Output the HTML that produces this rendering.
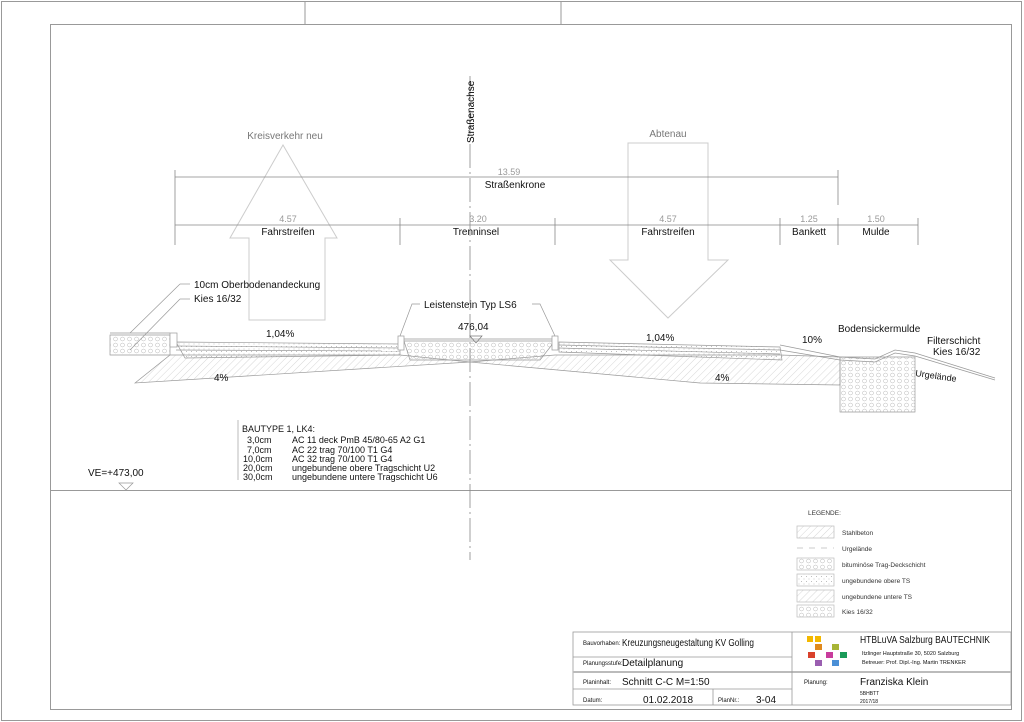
<!DOCTYPE html>
<html><head><meta charset="utf-8"><style>
html,body{margin:0;padding:0;background:#fff}
svg{display:block;font-family:"Liberation Sans",sans-serif}
</style></head><body>
<svg width="1024" height="722" viewBox="0 0 1024 722" xmlns="http://www.w3.org/2000/svg">
<defs>
<pattern id="hatch" width="5" height="5" patternUnits="userSpaceOnUse" patternTransform="rotate(45)"><line x1="0" y1="0" x2="0" y2="5" stroke="#bbb" stroke-width="0.6"/></pattern>
<pattern id="dots" width="5" height="5" patternUnits="userSpaceOnUse"><circle cx="1.5" cy="1.5" r="0.5" fill="#aaa"/><circle cx="4" cy="4" r="0.5" fill="#bbb"/></pattern>
<pattern id="kies" width="7" height="6" patternUnits="userSpaceOnUse"><circle cx="3.5" cy="3" r="2" fill="none" stroke="#bbb" stroke-width="0.5"/></pattern>
</defs>
<g fill="none" stroke="#999" stroke-width="1">
<rect x="1.5" y="1.5" width="1020" height="719"/>
<rect x="50.5" y="24.5" width="961" height="685"/>
<line x1="305" y1="1" x2="305" y2="24"/><line x1="561" y1="1" x2="561" y2="24"/>
<line x1="50" y1="490.5" x2="1011" y2="490.5"/>
</g>
<line x1="470" y1="76" x2="470" y2="560" stroke="#888" stroke-width="0.8" stroke-dasharray="24,4,2,4"/>
<text x="0" y="0" transform="translate(474,143) rotate(-90)" font-size="10">Straßenachse</text>
<g fill="none" stroke="#ccc" stroke-width="1">
<polygon points="283,145 337,238 325,238 325,320 249,320 249,238 230,238"/>
<polygon points="628,143 708,143 708,260 728,260 668,318 610,260 628,260"/>
</g>
<text x="285" y="139" font-size="10" fill="#777" text-anchor="middle">Kreisverkehr neu</text>
<text x="668" y="137" font-size="10" fill="#777" text-anchor="middle">Abtenau</text>
<g stroke="#888" stroke-width="0.8" fill="none">
<line x1="175" y1="177" x2="838" y2="177"/>
<line x1="175" y1="170" x2="175" y2="245"/><line x1="838" y1="170" x2="838" y2="205"/>
<line x1="175" y1="225" x2="918" y2="225"/>
<line x1="400" y1="218" x2="400" y2="245"/><line x1="555" y1="218" x2="555" y2="245"/><line x1="780" y1="218" x2="780" y2="245"/><line x1="838" y1="218" x2="838" y2="245"/><line x1="918" y1="218" x2="918" y2="245"/>
</g>
<g font-size="9" fill="#999" text-anchor="middle">
<text x="509" y="175">13.59</text><text x="288" y="222">4.57</text><text x="478" y="222">3.20</text><text x="668" y="222">4.57</text><text x="809" y="222">1.25</text><text x="876" y="222">1.50</text>
</g>
<g font-size="10" fill="#111" text-anchor="middle">
<text x="515" y="188">Straßenkrone</text>
<text x="288" y="235">Fahrstreifen</text><text x="476" y="235">Trenninsel</text><text x="668" y="235">Fahrstreifen</text><text x="809" y="235">Bankett</text><text x="876" y="235">Mulde</text>
</g>
<g stroke="#999" stroke-width="0.7">
<polygon points="135,383 170,355 400,355 470,362 555,355 780,355 840,357 840,385 700,383 470,362 135,383" fill="url(#hatch)"/>
<polygon points="110,335 170,335 170,355 110,355" fill="url(#kies)"/>
<polygon points="176,342 400,344 400,355 185,358" fill="url(#dots)"/>
<line x1="176" y1="346" x2="400" y2="348"/><line x1="176" y1="350" x2="400" y2="351"/>
<polygon points="404,341 555,341 540,360 410,360" fill="url(#kies)"/>
<polygon points="559,342 780,347 782,360 559,352" fill="url(#dots)"/>
<line x1="559" y1="345" x2="780" y2="350"/><line x1="559" y1="348" x2="780" y2="354"/>
<polygon points="840,357 915,357 915,412 840,412" fill="url(#kies)"/>
<rect x="170" y="333" width="7" height="14" fill="#fff"/>
<rect x="398" y="336" width="6" height="14" fill="#fff"/>
<rect x="552" y="336" width="6" height="14" fill="#fff"/>
<polyline points="110,333 170,333" fill="none"/>
<polyline points="780,345 840,357 875,359 895,350 915,353 995,378" fill="none"/>
<polyline points="780,350 840,360 875,362 895,353 915,356 995,380" fill="none"/>
<line x1="404" y1="339" x2="552" y2="339"/>
<line x1="130" y1="333" x2="180" y2="284"/><line x1="180" y1="284" x2="190" y2="284"/>
<line x1="130" y1="350" x2="180" y2="299"/><line x1="180" y1="299" x2="190" y2="299"/>
<polyline points="400,336 412,304 420,304" fill="none"/><polyline points="555,336 540,304 532,304" fill="none"/>
</g>
<polygon points="470,336 476,343 482,336" fill="none" stroke="#777" stroke-width="0.7"/>
<g font-size="10" fill="#111">
<text x="194" y="288">10cm Oberbodenandeckung</text>
<text x="194" y="302">Kies 16/32</text>
<text x="424" y="308">Leistenstein Typ LS6</text>
<text x="458" y="330">476,04</text>
<text x="266" y="337">1,04%</text><text x="646" y="341">1,04%</text>
<text x="214" y="381">4%</text><text x="715" y="381">4%</text>
<text x="802" y="343">10%</text>
<text x="838" y="332">Bodensickermulde</text>
<text x="927" y="344">Filterschicht</text><text x="933" y="355">Kies 16/32</text>
<text x="915" y="376" font-size="9" transform="rotate(8 915 376)">Urgelände</text>
<text x="88" y="476">VE=+473,00</text>
</g>
<polygon points="119,483 133,483 126,490" fill="none" stroke="#999" stroke-width="0.7"/>
<line x1="238" y1="420" x2="238" y2="480" stroke="#bbb"/>
<g font-size="9" fill="#111">
<text x="242" y="432">BAUTYPE 1, LK4:</text>
<text x="247" y="443">3,0cm</text><text x="292" y="443">AC 11 deck PmB 45/80-65 A2 G1</text>
<text x="247" y="453">7,0cm</text><text x="292" y="453">AC 22 trag 70/100 T1 G4</text>
<text x="243" y="462">10,0cm</text><text x="292" y="462">AC 32 trag 70/100 T1 G4</text>
<text x="243" y="471">20,0cm</text><text x="292" y="471">ungebundene obere Tragschicht U2</text>
<text x="243" y="480">30,0cm</text><text x="292" y="480">ungebundene untere Tragschicht U6</text>
</g>
<g font-size="6.5" fill="#333">
<text x="808" y="515">LEGENDE:</text>
<text x="842" y="535">Stahlbeton</text><text x="842" y="551">Urgelände</text><text x="842" y="567">bituminöse Trag-Deckschicht</text><text x="842" y="583">ungebundene obere TS</text><text x="842" y="599">ungebundene untere TS</text><text x="842" y="614">Kies 16/32</text>
</g>
<g stroke="#bbb" stroke-width="0.7">
<rect x="797" y="526" width="37" height="12" fill="url(#hatch)"/>
<line x1="797" y1="548" x2="834" y2="548" stroke-dasharray="6,6"/>
<rect x="797" y="558" width="37" height="12" fill="url(#kies)"/>
<rect x="797" y="574" width="37" height="12" fill="url(#dots)"/>
<rect x="797" y="590" width="37" height="12" fill="url(#hatch)"/>
<rect x="797" y="605" width="37" height="12" fill="url(#kies)"/>
</g>
<g stroke="#999" fill="none" stroke-width="0.8">
<rect x="573" y="632" width="438" height="73"/>
<line x1="573" y1="657" x2="792" y2="657"/>
<line x1="573" y1="672" x2="1011" y2="672" stroke-width="2" stroke="#bbb"/>
<line x1="573" y1="689" x2="792" y2="689"/>
<line x1="792" y1="632" x2="792" y2="705"/>
<line x1="713" y1="689" x2="713" y2="705"/>
</g>
<rect x="807" y="636" width="6" height="6" fill="#f3b800"/><rect x="815" y="636" width="6" height="6" fill="#f3b800"/>
<rect x="815" y="644" width="7" height="6" fill="#e08a1e"/><rect x="832" y="644" width="7" height="6" fill="#a8b536"/>
<rect x="808" y="652" width="7" height="6" fill="#d9412c"/><rect x="826" y="652" width="7" height="6" fill="#c83c9c"/><rect x="840" y="652" width="7" height="6" fill="#1a9a58"/>
<rect x="815" y="660" width="7" height="6" fill="#9a5eb0"/><rect x="832" y="660" width="7" height="6" fill="#4a8fd6"/>
<g fill="#111">
<text x="583" y="645" font-size="6">Bauvorhaben:</text><text x="622" y="646" font-size="10" textLength="132" lengthAdjust="spacingAndGlyphs">Kreuzungsneugestaltung KV Golling</text>
<text x="583" y="665" font-size="6">Planungsstufe:</text><text x="622" y="666" font-size="10">Detailplanung</text>
<text x="583" y="684" font-size="6">Planinhalt:</text><text x="622" y="685" font-size="10">Schnitt C-C M=1:50</text>
<text x="583" y="702" font-size="6">Datum:</text><text x="643" y="703" font-size="10">01.02.2018</text>
<text x="718" y="702" font-size="6">PlanNr.:</text><text x="756" y="703" font-size="10">3-04</text>
<text x="860" y="643" font-size="10" textLength="130" lengthAdjust="spacingAndGlyphs">HTBLuVA Salzburg BAUTECHNIK</text>
<text x="862" y="655" font-size="5.5">Itzlinger Hauptstraße 30, 5020 Salzburg</text>
<text x="862" y="664" font-size="5.5">Betreuer: Prof. Dipl.-Ing. Martin TRENKER</text>
<text x="804" y="684" font-size="6">Planung:</text>
<text x="860" y="685" font-size="10">Franziska Klein</text>
<text x="860" y="695" font-size="5">5BHBTT</text><text x="860" y="703" font-size="5">2017/18</text>
</g>
</svg>
</body></html>
